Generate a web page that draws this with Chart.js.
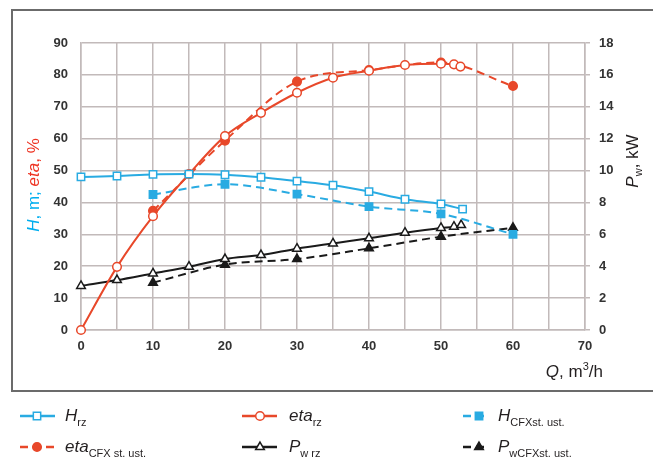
<!DOCTYPE html>
<html>
<head>
<meta charset="utf-8">
<script src="https://cdn.jsdelivr.net/npm/chart.js@4.4.1/dist/chart.umd.min.js"></script>
<style>
  html, body { margin: 0; padding: 0; background: #fff; }
  #wrap { width: 653px; height: 459px; }
</style>
</head>
<body>
<div id="wrap"><canvas id="pumpChart" width="653" height="459"></canvas></div>
<script>
// flow rate Q, m3/h and measured / CFX values
var qHRz = [0, 5, 10, 15, 20, 25, 30, 35, 40, 45, 50, 53];
var hRz = [48, 48.3, 48.8, 48.9, 48.7, 47.9, 46.7, 45.4, 43.4, 41, 39.5, 37.9];

var qEtaRz = [0, 5, 10, 15, 20, 25, 30, 35, 40, 45, 50, 51.8, 52.7];
var etaRz = [0, 19.8, 35.7, 48.9, 60.8, 68.1, 74.4, 79.1, 81.3, 83.1, 83.5, 83.3, 82.6];

var qPRz = [0, 5, 10, 15, 20, 25, 30, 35, 40, 45, 50, 51.8, 52.8];
var pRz = [2.76, 3.13, 3.55, 3.97, 4.45, 4.7, 5.1, 5.43, 5.75, 6.1, 6.4, 6.48, 6.58];

var qCfx = [10, 20, 30, 40, 50, 60];
var hCfx = [42.5, 45.7, 42.6, 38.7, 36.4, 30];
var etaCfx = [37.4, 59.4, 77.9, 81.5, 83.9, 76.5];
var pCfx = [2.97, 4.1, 4.45, 5.12, 5.85, 6.41];

var leftTicks = [0, 10, 20, 30, 40, 50, 60, 70, 80, 90];
var rightTicks = [0, 2, 4, 6, 8, 10, 12, 14, 16, 18];

var BLUE = "#29abe2";
var RED = "#e8482a";
var BLACK = "#1a1a1a";
var GRID = "#c2baba";
var FONT = '"Liberation Sans", Arial, sans-serif';

function pts(xs, ys) {
  return xs.map(function (x, i) { return { x: x, y: ys[i] }; });
}

function series(label, xs, ys, color, axis, style, filled, dashed, radius) {
  return {
    label: label,
    data: pts(xs, ys),
    yAxisID: axis,
    borderColor: color,
    borderWidth: 2,
    borderDash: dashed ? [8, 5] : [],
    pointStyle: style,
    pointRadius: radius,
    pointBorderWidth: 1.5,
    pointBorderColor: color,
    pointBackgroundColor: filled ? color : "#fff",
    cubicInterpolationMode: "monotone",
    clip: false,
    fill: false,
  };
}

// legend rows: [label, subscript, dataset index, column, row]
var legendItems = [
  ["H", "rz", 0, 0, 0],
  ["eta", "rz", 1, 1, 0],
  ["H", "CFXst. ust.", 2, 2, 0],
  ["eta", "CFX st. ust.", 3, 0, 1],
  ["P", "w rz", 4, 1, 1],
  ["P", "wCFXst. ust.", 5, 2, 1],
];

function drawMarker(ctx, ds, x, y) {
  var r = ds.pointRadius;
  ctx.save();
  ctx.fillStyle = ds.pointBackgroundColor;
  ctx.strokeStyle = ds.pointBorderColor;
  ctx.lineWidth = ds.pointBorderWidth;
  ctx.setLineDash([]);
  ctx.beginPath();
  if (ds.pointStyle === "rect") {
    var s = r * Math.SQRT1_2;
    ctx.rect(x - s, y - s, 2 * s, 2 * s);
  } else if (ds.pointStyle === "triangle") {
    ctx.moveTo(x, y - r);
    ctx.lineTo(x + r * 0.866, y + r * 0.5);
    ctx.lineTo(x - r * 0.866, y + r * 0.5);
    ctx.closePath();
  } else {
    ctx.arc(x, y, r, 0, Math.PI * 2);
  }
  ctx.fill();
  ctx.stroke();
  ctx.restore();
}

// draws runs of text with mixed style; returns total width
function richText(ctx, parts, x, y, measureOnly) {
  var cx = x;
  parts.forEach(function (p) {
    ctx.font = (p.italic ? "italic " : "") + p.size + "px " + FONT;
    if (!measureOnly) {
      ctx.fillStyle = p.color || "#231f20";
      ctx.fillText(p.t, cx, y + (p.dy || 0));
    }
    cx += ctx.measureText(p.t).width;
  });
  return cx - x;
}

var decorPlugin = {
  id: "decor",
  beforeDraw: function (chart) {
    var ctx = chart.ctx;
    ctx.save();
    ctx.strokeStyle = "#6b6b6b";
    ctx.lineWidth = 2;
    ctx.strokeRect(12, 10, 700, 381);
    ctx.restore();
  },
  afterDraw: function (chart) {
    var ctx = chart.ctx;
    ctx.save();
    ctx.textBaseline = "alphabetic";
    ctx.textAlign = "left";

    // left axis title
    var left = [
      { t: "H", italic: true, size: 17, color: "#00aeef" },
      { t: ", m; ", size: 17, color: "#00aeef" },
      { t: "eta", italic: true, size: 17, color: "#ee3524" },
      { t: ", %", size: 17, color: "#ee3524" },
    ];
    ctx.save();
    ctx.translate(39, 185);
    ctx.rotate(-Math.PI / 2);
    var w = richText(ctx, left, 0, 0, true);
    richText(ctx, left, -w / 2, 0);
    ctx.restore();

    // right axis title
    var right = [
      { t: "P", italic: true, size: 17 },
      { t: "w", size: 11, dy: 4 },
      { t: ", kW", size: 17 },
    ];
    ctx.save();
    ctx.translate(638, 161);
    ctx.rotate(-Math.PI / 2);
    w = richText(ctx, right, 0, 0, true);
    richText(ctx, right, -w / 2, 0);
    ctx.restore();

    // x axis title
    var bottom = [
      { t: "Q", italic: true, size: 17 },
      { t: ", m", size: 17 },
      { t: "3", size: 11, dy: -7 },
      { t: "/h", size: 17 },
    ];
    w = richText(ctx, bottom, 0, 0, true);
    richText(ctx, bottom, 603 - w, 377);

    // legend
    var cols = [
      { x1: 20, x2: 55, m: 37, t: 65 },
      { x1: 242, x2: 277, m: 260, t: 289 },
      { x1: 463, x2: 485, m: 479, t: 498 },
    ];
    var rows = [416, 447];
    legendItems.forEach(function (it) {
      var ds = chart.data.datasets[it[2]];
      var c = cols[it[3]];
      var y = rows[it[4]];
      ctx.save();
      ctx.strokeStyle = ds.borderColor;
      ctx.lineWidth = 2.5;
      ctx.setLineDash(ds.borderDash);
      ctx.beginPath();
      ctx.moveTo(c.x1, y);
      ctx.lineTo(c.x2, y);
      ctx.stroke();
      ctx.restore();
      drawMarker(ctx, ds, c.m, y);
      richText(ctx, [
        { t: it[0], italic: true, size: 17 },
        { t: it[1], size: 11, dy: 5 },
      ], c.t, y + 5);
    });
    ctx.restore();
  },
};

var tickFont = { family: FONT, size: 13, weight: "bold" };

new Chart(document.getElementById("pumpChart"), {
  type: "line",
  data: {
    datasets: [
      series("H rz", qHRz, hRz, BLUE, "y", "rect", false, false, 5.2),
      series("eta rz", qEtaRz, etaRz, RED, "y", "circle", false, false, 4.3),
      series("H CFX st. ust.", qCfx, hCfx, BLUE, "y", "rect", true, true, 5.2),
      series("eta CFX st. ust.", qCfx, etaCfx, RED, "y", "circle", true, true, 4.3),
      series("Pw rz", qPRz, pRz, BLACK, "y2", "triangle", false, false, 5),
      series("Pw CFX st. ust.", qCfx, pCfx, BLACK, "y2", "triangle", true, true, 5),
    ],
  },
  options: {
    responsive: false,
    animation: false,
    layout: { padding: { top: 43, left: 0, right: 0, bottom: 0 } },
    plugins: { legend: { display: false }, tooltip: { enabled: false } },
    scales: {
      x: {
        type: "linear",
        min: 0,
        max: 70,
        afterFit: function (s) { s.height = 129; },
        ticks: {
          stepSize: 5,
          color: "#333",
          font: tickFont,
          padding: 9,
          maxRotation: 0,
          autoSkip: false,
          callback: function (v) { return v % 10 === 0 ? String(v) : ""; },
        },
        grid: { color: GRID, lineWidth: 1.5, drawTicks: false },
        border: { color: GRID, width: 1.5 },
      },
      y: {
        position: "left",
        min: 0,
        max: 90,
        afterFit: function (s) { s.width = 81; },
        afterBuildTicks: function (s) {
          s.ticks = leftTicks.map(function (v) { return { value: v }; });
        },
        ticks: { color: "#333", font: tickFont, padding: 13 },
        grid: { color: GRID, lineWidth: 1.5, drawTicks: false },
        border: { color: GRID, width: 1.5 },
      },
      y2: {
        position: "right",
        min: 0,
        max: 18,
        afterFit: function (s) { s.width = 68; },
        afterBuildTicks: function (s) {
          s.ticks = rightTicks.map(function (v) { return { value: v }; });
        },
        ticks: { color: "#333", font: tickFont, padding: 9 },
        grid: { drawOnChartArea: false, color: GRID, lineWidth: 1.5, tickLength: 5 },
        border: { color: GRID, width: 1.5 },
      },
    },
  },
  plugins: [decorPlugin],
});
</script>
</body>
</html>
